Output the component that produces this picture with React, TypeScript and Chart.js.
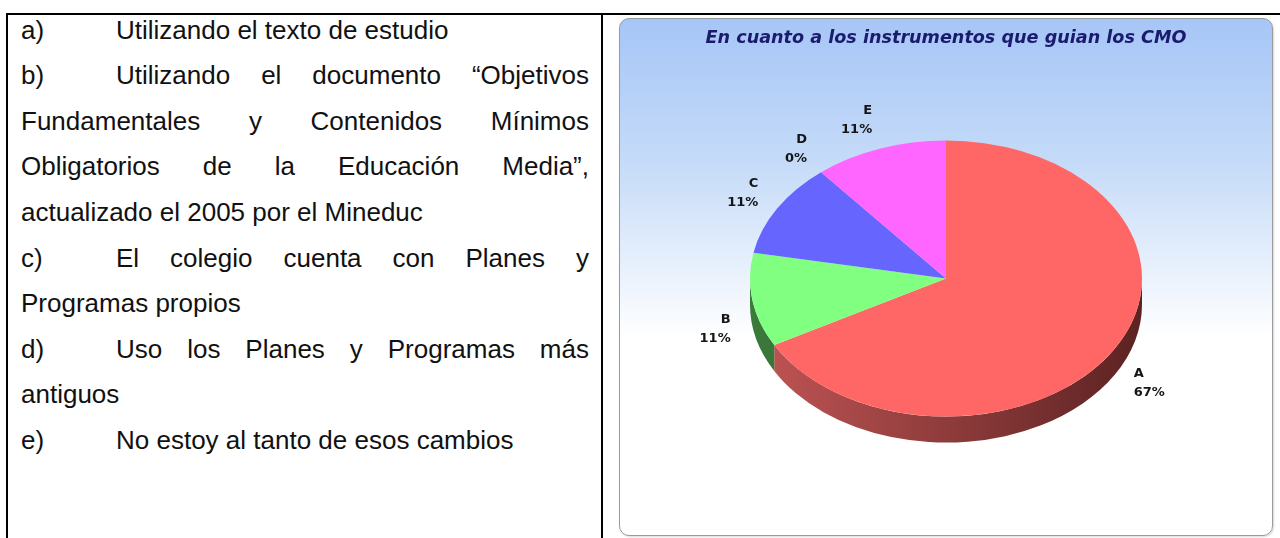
import React, { useEffect, useRef } from "react";
import { Chart, registerables } from "chart.js";

Chart.register(...registerables);

// ---- chart data ----
const categories = ["A", "B", "C", "D", "E"];
const percentages = [67, 11, 11, 0, 11];
const chartTitle = "En cuanto a los instrumentos que guian los CMO";

// ---- styles ----
const topColors = ["#ff6666", "#80ff80", "#6666ff", "#ffff66", "#ff66ff"];
const sideLight = ["#c25555", "#3a7a3a", "#3a3a9a", "#9a9a3a", "#9a3a9a"];
const sideDark = ["#5c2222", "#1e4a1e", "#22225c", "#5c5c22", "#5c225c"];
const TILT = 138 / 196;
const DEPTH = 26;

// ---- left text ----
const markers = ["a)", "b)", "", "", "", "c)", "", "d)", "", "e)"];
const lineTexts = [
  "Utilizando el texto de estudio",
  "Utilizando el documento \u201cObjetivos",
  "Fundamentales y Contenidos M\u00ednimos",
  "Obligatorios de la Educaci\u00f3n Media\u201d,",
  "actualizado el 2005 por el Mineduc",
  "El colegio cuenta con Planes y",
  "Programas propios",
  "Uso los Planes y Programas m\u00e1s",
  "antiguos",
  "No estoy al tanto de esos cambios",
];
const justified = [false, true, true, true, false, true, false, true, false, false];

function visibleRanges(a1: number, a2: number): [number, number][] {
  const out: [number, number][] = [];
  for (const base of [-2 * Math.PI, 0, 2 * Math.PI]) {
    const s = Math.max(a1, base);
    const e = Math.min(a2, base + Math.PI);
    if (e > s) out.push([s, e]);
  }
  return out;
}

const pie3d = {
  id: "pie3d",
  beforeDatasetsDraw(chart: any) {
    const meta = chart.getDatasetMeta(0);
    const arcs = meta.data as any[];
    const ctx = chart.ctx as CanvasRenderingContext2D;
    if (!arcs.length) return;
    const cx = arcs[0].x;
    const cy = arcs[0].y;
    const r = arcs[0].outerRadius;
    const ry = r * TILT;
    arcs.forEach((arc: any, i: number) => {
      visibleRanges(arc.startAngle, arc.endAngle).forEach(([s, e]) => {
        const g = ctx.createLinearGradient(cx - r, 0, cx + r, 0);
        g.addColorStop(0, sideLight[i]);
        g.addColorStop(1, sideDark[i]);
        ctx.save();
        ctx.beginPath();
        ctx.ellipse(cx, cy, r, ry, 0, s, e, false);
        ctx.ellipse(cx, cy + DEPTH, r, ry, 0, e, s, true);
        ctx.closePath();
        ctx.fillStyle = g;
        ctx.fill();
        ctx.restore();
      });
    });
    ctx.save();
    ctx.translate(cx, cy);
    ctx.scale(1, TILT);
    ctx.translate(-cx, -cy);
  },
  afterDatasetsDraw(chart: any) {
    const ctx = chart.ctx as CanvasRenderingContext2D;
    ctx.restore();
    const meta = chart.getDatasetMeta(0);
    const arcs = meta.data as any[];
    if (!arcs.length) return;
    const data = chart.data.datasets[0].data as number[];
    const total = data.reduce((a, b) => a + b, 0);
    const labels = chart.data.labels as string[];
    ctx.save();
    ctx.font = "bold 13px 'DejaVu Sans'";
    ctx.fillStyle = "#151515";
    ctx.textBaseline = "middle";
    arcs.forEach((arc: any, i: number) => {
      const mid = (arc.startAngle + arc.endAngle) / 2;
      const c = Math.cos(mid);
      const s = Math.sin(mid);
      const r = arc.outerRadius;
      const ry = r * TILT;
      const x = arc.x + (r + 22) * c;
      const y = s > 0 ? arc.y + (ry + 16) * s + DEPTH : arc.y + (ry + 30) * s;
      ctx.textAlign = c >= 0 ? "left" : "right";
      const pct = Math.round((data[i] / total) * 100) + "%";
      ctx.fillText(labels[i], x, y - 9.5);
      ctx.fillText(pct, x, y + 9.5);
    });
    ctx.restore();
  },
};

function PieChart() {
  const ref = useRef<HTMLCanvasElement | null>(null);
  useEffect(() => {
    if (!ref.current) return;
    const chart = new Chart(ref.current, {
      type: "pie",
      data: {
        labels: categories,
        datasets: [
          {
            data: percentages,
            backgroundColor: topColors,
            borderWidth: 0,
            radius: 196,
            clip: false,
          } as any,
        ],
      },
      options: {
        animation: false,
        responsive: true,
        maintainAspectRatio: false,
        events: [],
        layout: { padding: { top: 0, bottom: 37, left: 0, right: 0 } },
        plugins: {
          legend: { display: false },
          tooltip: { enabled: false },
          title: {
            display: true,
            text: chartTitle,
            color: "#1b1b6e",
            font: { family: "'DejaVu Sans'", size: 17.6, style: "italic", weight: "bold" },
            padding: { top: 10, bottom: 9 },
          },
        },
      },
      plugins: [pie3d],
    });
    return () => chart.destroy();
  }, []);
  return <canvas ref={ref} />;
}

export default function App() {
  const lineH = 45.6;
  return (
    <div
      style={{
        position: "absolute",
        left: 0,
        top: 0,
        width: 1280,
        height: 538,
        overflow: "hidden",
        background: "#ffffff",
        fontFamily: "'Liberation Sans', Arial, sans-serif",
      }}
    >
      {/* table borders */}
      <div style={{ position: "absolute", left: 6, top: 13, width: 1274, height: 2, background: "#000" }} />
      <div style={{ position: "absolute", left: 6, top: 13, width: 2, height: 525, background: "#000" }} />
      <div style={{ position: "absolute", left: 601, top: 13, width: 2, height: 525, background: "#000" }} />

      {/* left text */}
      {lineTexts.map((t, i) => {
        const top = 7.5 + i * lineH;
        const hasMarker = markers[i] !== "";
        const left = hasMarker ? 116 : 21;
        return (
          <React.Fragment key={i}>
            {hasMarker && (
              <div
                style={{
                  position: "absolute",
                  left: 21,
                  top,
                  height: lineH,
                  lineHeight: lineH + "px",
                  fontSize: 26,
                  color: "#111",
                  whiteSpace: "nowrap",
                }}
              >
                {markers[i]}
              </div>
            )}
            <div
              style={{
                position: "absolute",
                left,
                top,
                width: 589 - left,
                height: lineH,
                lineHeight: lineH + "px",
                fontSize: 26,
                color: "#111",
                whiteSpace: justified[i] ? "normal" : "nowrap",
                textAlign: justified[i] ? "justify" : "left",
                textAlignLast: justified[i] ? "justify" : "left",
              } as React.CSSProperties}
            >
              {t}
            </div>
          </React.Fragment>
        );
      })}

      {/* chart box */}
      <div
        style={{
          position: "absolute",
          left: 619,
          top: 18,
          width: 652,
          height: 516,
          border: "1px solid #9a9a9a",
          borderRadius: 10,
          background: "linear-gradient(to bottom, #a6c6f7 0%, #c4daf8 27%, #ffffff 62%, #ffffff 100%)",
          boxShadow: "1px 1px 2px rgba(0,0,0,0.15)",
        }}
      />
      <div style={{ position: "absolute", left: 619, top: 18, width: 654, height: 518 }}>
        <PieChart />
      </div>
    </div>
  );
}
